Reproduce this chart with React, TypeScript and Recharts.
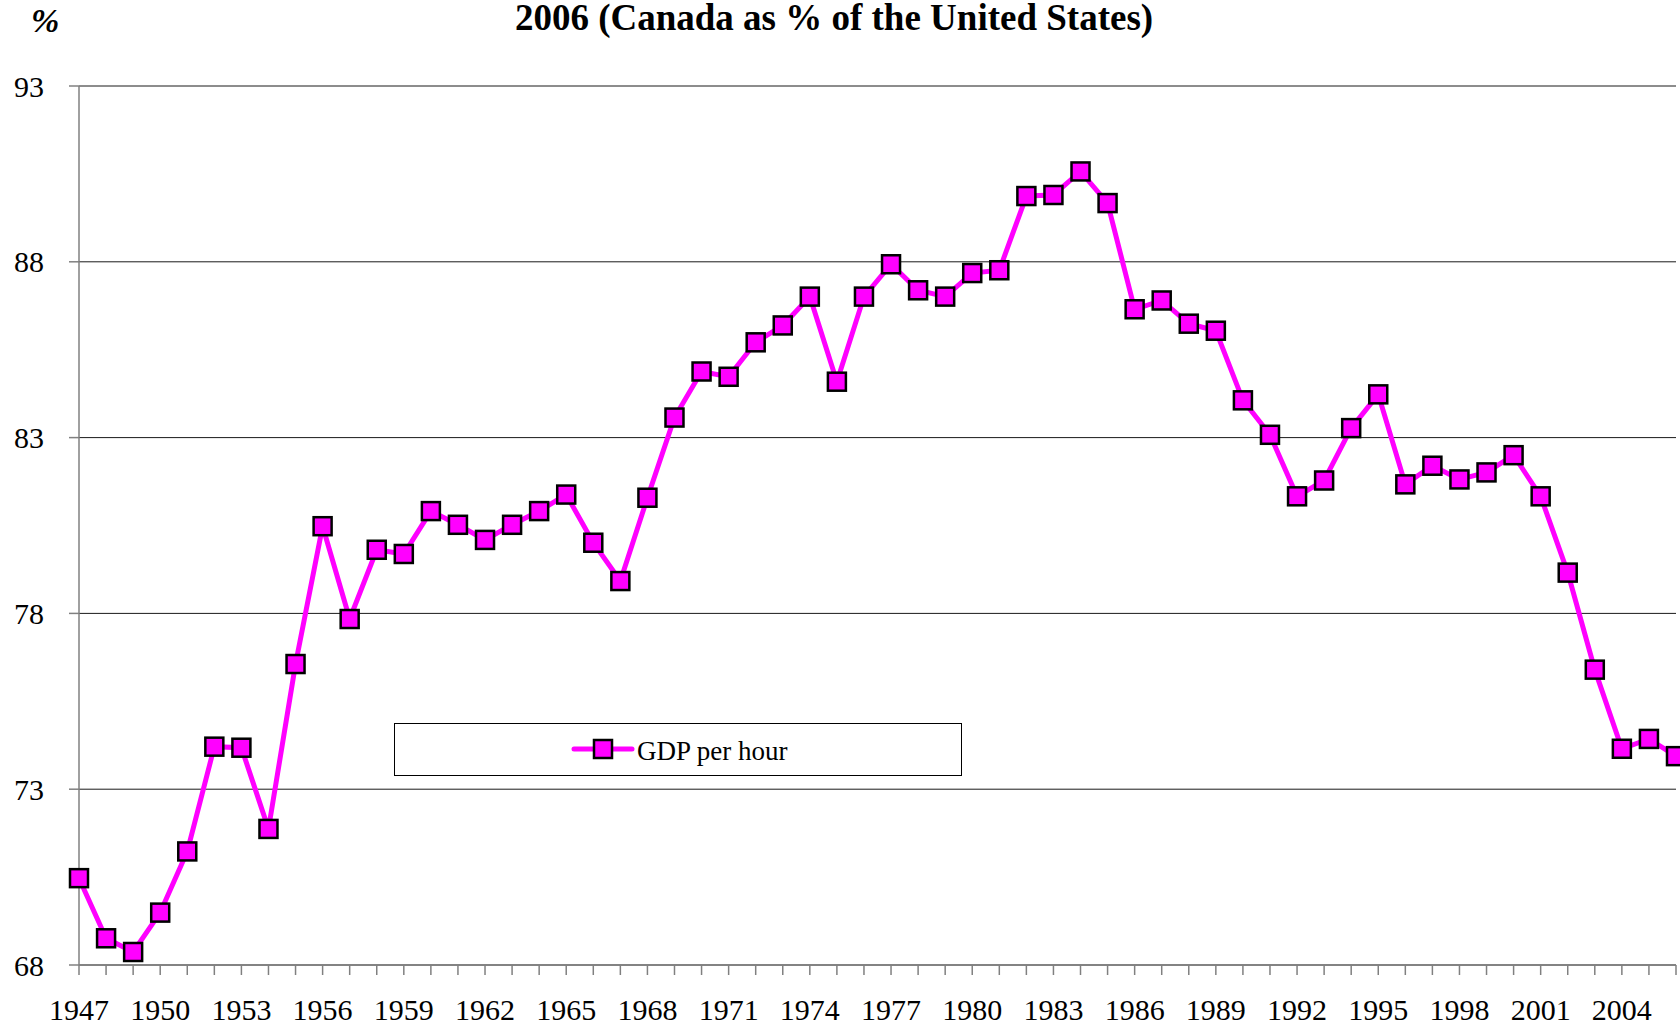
import React from "react";
import {
  LineChart,
  Line,
  XAxis,
  YAxis,
  CartesianGrid,
  Legend,
} from "recharts";

// years on the category axis
const years = [
  1947, 1948, 1949, 1950, 1951, 1952, 1953, 1954, 1955, 1956, 1957, 1958,
  1959, 1960, 1961, 1962, 1963, 1964, 1965, 1966, 1967, 1968, 1969, 1970,
  1971, 1972, 1973, 1974, 1975, 1976, 1977, 1978, 1979, 1980, 1981, 1982,
  1983, 1984, 1985, 1986, 1987, 1988, 1989, 1990, 1991, 1992, 1993, 1994,
  1995, 1996, 1997, 1998, 1999, 2000, 2001, 2002, 2003, 2004, 2005, 2006,
];

// GDP per hour, Canada as % of the United States
const gdpPerHour = [
  70.47, 68.76, 68.37, 69.49, 71.23, 74.21, 74.18, 71.87, 76.56, 80.48, 77.84,
  79.81, 79.69, 80.91, 80.52, 80.09, 80.52, 80.91, 81.38, 80.01, 78.92, 81.29,
  83.57, 84.88, 84.73, 85.71, 86.19, 87.01, 84.59, 87.01, 87.93, 87.19, 87.01,
  87.68, 87.76, 89.87, 89.9, 90.57, 89.67, 86.65, 86.9, 86.24, 86.04, 84.06,
  83.08, 81.33, 81.78, 83.27, 84.23, 81.67, 82.2, 81.81, 82.01, 82.5, 81.33,
  79.16, 76.4, 74.15, 74.43, 73.94,
];

const yTicks = [68, 73, 78, 83, 88, 93];

const chartData = years.map((year, i) => ({ year, gdp: gdpPerHour[i] }));

const serif = "'Liberation Serif', 'Times New Roman', serif";
const magenta = "#FF00FF";

const SquareDot = (props: any) => {
  const { cx, cy, index } = props;
  if (cx == null || cy == null) return <g key={`d-${index}`} />;
  return (
    <rect
      key={`d-${index}`}
      x={cx - 9}
      y={cy - 9}
      width={18}
      height={18}
      fill={magenta}
      stroke="#000"
      strokeWidth={2.5}
    />
  );
};

const renderLegend = () => (
  <svg width={569} height={54} style={{ display: "block" }}>
    <rect x={0.5} y={0.5} width={567} height={52} fill="#fff" stroke="#000" strokeWidth={1} />
    <line x1={180} y1={26} x2={238} y2={26} stroke={magenta} strokeWidth={5} strokeLinecap="round" />
    <rect x={200} y={17} width={18} height={18} fill={magenta} stroke="#000" strokeWidth={2.5} />
    <text x={243} y={37} fontSize={27} fontFamily={serif} fill="#000">
      GDP per hour
    </text>
  </svg>
);

export default function App() {
  return (
    <div
      style={{
        position: "absolute",
        left: 0,
        top: 0,
        width: 1680,
        height: 1029,
        background: "#fff",
        overflow: "hidden",
        fontFamily: serif,
      }}
    >
      <LineChart
        width={1680}
        height={1029}
        data={chartData}
        margin={{ top: 86, right: 4, left: 0, bottom: 4 }}
        style={{ fontFamily: serif }}
      >
        <CartesianGrid horizontal vertical={false} stroke="#1a1a1a" strokeWidth={1} />
        <XAxis
          dataKey="year"
          interval={0}
          height={60}
          tickSize={10}
          tickMargin={24}
          axisLine={{ stroke: "#808080", strokeWidth: 1.5 }}
          tickLine={{ stroke: "#808080", strokeWidth: 1.5 }}
          tick={{ fontSize: 30, fill: "#000", fontFamily: serif }}
          tickFormatter={(v: number) => ((v - 1947) % 3 === 0 ? String(v) : "")}
        />
        <YAxis
          type="number"
          domain={[68, 93]}
          ticks={yTicks}
          width={79}
          tickSize={10}
          tickMargin={25}
          axisLine={{ stroke: "#808080", strokeWidth: 1.5 }}
          tickLine={{ stroke: "#808080", strokeWidth: 1.5 }}
          tick={{ fontSize: 30, fill: "#000", fontFamily: serif }}
        />
        <Legend
          layout="horizontal"
          verticalAlign="middle"
          align="center"
          content={renderLegend}
          wrapperStyle={{ position: "absolute", left: 394, top: 723, width: 569, height: 54 }}
        />
        <Line
          type="linear"
          dataKey="gdp"
          name="GDP per hour"
          stroke={magenta}
          strokeWidth={5}
          dot={SquareDot}
          activeDot={false}
          isAnimationActive={false}
        />
      </LineChart>
      <svg
        width={1680}
        height={80}
        style={{ position: "absolute", left: 0, top: 0, pointerEvents: "none" }}
      >
        <text x={31} y={32} fontSize={34} fontStyle="italic" fontWeight="bold" fontFamily={serif} fill="#000">
          %
        </text>
        <text x={834} y={30} fontSize={37} fontWeight="bold" textAnchor="middle" fontFamily={serif} fill="#000">
          2006 (Canada as % of the United States)
        </text>
      </svg>
    </div>
  );
}
